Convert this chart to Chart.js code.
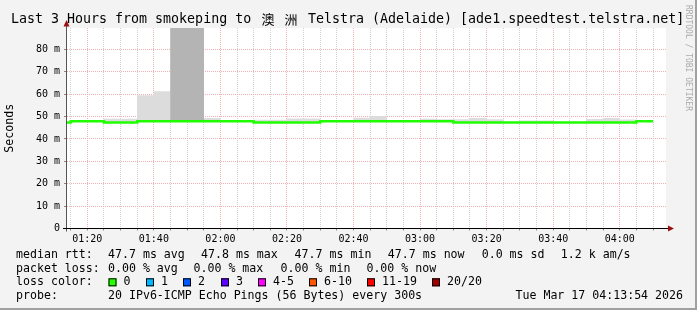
<!DOCTYPE html>
<html>
<head>
<meta charset="utf-8">
<script src="https://cdn.jsdelivr.net/npm/chart.js@4.4.1/dist/chart.umd.min.js"></script>
<style>
  html, body { margin: 0; padding: 0; background: #f3f3f3; }
  canvas { display: block; }
</style>
</head>
<body>
<canvas id="rttChart" width="697" height="310"></canvas>
<script>
const FONT = '"DejaVu Sans Mono", monospace';

// 5 minute bins, the first one starts at 01:10 (minutes after midnight)
const firstBin = 70;
const binMinutes = 5;
const viewStart = 73.9;   // 01:13:54
const viewEnd = 253.9;    // 04:13:54

const medianRtt = [47.4, 47.9, 47.9, 47.4, 47.4, 47.9, 47.9, 47.9, 47.9, 47.9,
                   47.9, 47.9, 47.4, 47.4, 47.4, 47.4, 47.9, 47.9, 47.9, 47.9,
                   47.9, 47.9, 47.9, 47.9, 47.4, 47.4, 47.4, 47.4, 47.4, 47.4,
                   47.4, 47.4, 47.4, 47.4, 47.4, 47.9];
const smokeLow   = [47.2, 47.6, 47.6, 47.2, 47.2, 47.6, 47.6, 47.6, 47.6, 47.6,
                    47.6, 47.6, 47.2, 47.2, 47.2, 47.2, 47.6, 47.6, 47.6, 47.6,
                    47.6, 47.6, 47.6, 47.6, 47.2, 47.2, 47.2, 47.2, 47.2, 47.2,
                    47.2, 47.2, 47.2, 47.2, 47.2, 47.6];
const smokeHigh  = [null, null, null, 49.0, 49.0, 59.5, 61.3, null, null, 49.4,
                    null, null, 48.6, 48.6, 49.2, 49.2, null, null, 49.5, 50.3,
                    null, null, 49.1, 48.8, 48.8, 49.4, 48.8, null, 48.3, 48.3,
                    null, null, 48.9, 49.4, 48.7, null];
const denseHigh  = [null, null, null, null, null, null, null, 95, 95, null,
                    null, null, null, null, null, null, null, null, null, null,
                    null, null, null, null, null, null, null, null, null, null,
                    null, null, null, null, null, null];

const xTickLabels = ['01:20', '01:40', '02:00', '02:20', '02:40', '03:00', '03:20', '03:40', '04:00'];
const yTickLabels = ['0', '10 m', '20 m', '30 m', '40 m', '50 m', '60 m', '70 m', '80 m'];

const titleParts = ['Last 3 Hours from smokeping to ', '澳洲', ' Telstra (Adelaide) [ade1.speedtest.telstra.net]'];
const rttStats = ['47.7 ms avg', '47.8 ms max', '47.7 ms min', '47.7 ms now', '0.0 ms sd', '1.2 k am/s'];
const lossStats = ['0.00 % avg', '0.00 % max', '0.00 % min', '0.00 % now'];
const lossLabels = ['0', '1', '2', '3', '4-5', '6-10', '11-19', '20/20'];
const lossColors = ['#26ff00', '#00b8ff', '#0059ff', '#5e00ff', '#ff00ff', '#ff5500', '#ff0000', '#a00000'];
const probeText = '20 IPv6-ICMP Echo Pings (56 Bytes) every 300s';
const dateText = 'Tue Mar 17 04:13:54 2026';

const toMinutes = s => { const [h, m] = s.split(':').map(Number); return h * 60 + m; };
const majorX = xTickLabels.map(toMinutes);

const binX = medianRtt.map((_, i) => firstBin + i * binMinutes);
const medianPoints = binX.map((x, i) => ({x, y: medianRtt[i]}));
medianPoints.push({x: binX[binX.length - 1] + binMinutes, y: medianRtt[medianRtt.length - 1]});
const smokePoints = binX.map((x, i) => smokeHigh[i] == null ? null : {x: x + binMinutes / 2, y: [smokeLow[i], smokeHigh[i]]}).filter(Boolean);
const densePoints = binX.map((x, i) => denseHigh[i] == null ? null : {x: x + binMinutes / 2, y: [smokeLow[i], denseHigh[i]]}).filter(Boolean);

const frame = {
  id: 'frame',
  beforeDraw(chart) {
    const {ctx, chartArea: a} = chart;
    ctx.save();
    ctx.fillStyle = '#f3f3f3';
    ctx.fillRect(0, 0, chart.width, chart.height);
    ctx.fillStyle = '#ffffff';
    ctx.fillRect(a.left, a.top, a.right - a.left, a.bottom - a.top);
    ctx.restore();
  },
  afterDraw(chart) {
    const {ctx, chartArea: a} = chart;
    ctx.save();
    // axes
    ctx.lineWidth = 1;
    ctx.strokeStyle = '#555555';
    ctx.beginPath();
    ctx.moveTo(a.left - 0.5, a.bottom + 3);
    ctx.lineTo(a.left - 0.5, a.top - 6);
    ctx.stroke();
    ctx.strokeStyle = '#000000';
    ctx.beginPath();
    ctx.moveTo(a.left - 4, Math.floor(a.bottom) + 0.5);
    ctx.lineTo(a.right + 3, Math.floor(a.bottom) + 0.5);
    ctx.stroke();
    // arrows
    ctx.fillStyle = '#9b1010';
    ctx.beginPath();
    ctx.moveTo(a.left - 0.5, a.top - 8);
    ctx.lineTo(a.left - 3.5, a.top - 1.5);
    ctx.lineTo(a.left + 2.5, a.top - 1.5);
    ctx.closePath();
    ctx.fill();
    const ay = Math.floor(a.bottom) + 0.5;
    ctx.beginPath();
    ctx.moveTo(a.right + 8, ay);
    ctx.lineTo(a.right + 2, ay - 3);
    ctx.lineTo(a.right + 2, ay + 3);
    ctx.closePath();
    ctx.fill();

    // title
    ctx.fillStyle = '#000000';
    ctx.textBaseline = 'alphabetic';
    ctx.textAlign = 'left';
    ctx.font = '13.3px ' + FONT;
    ctx.fillText(titleParts[0], 11, 23.3);
    ctx.fillText(titleParts[2], 300, 23.3);
    ctx.font = '13px "Noto Sans CJK SC"';
    ctx.textAlign = 'center';
    [...titleParts[1]].forEach((ch, i) => ctx.fillText(ch, 268 + i * 23, 23.5));

    // y axis title
    ctx.save();
    ctx.translate(10, (a.top + a.bottom) / 2);
    ctx.rotate(-Math.PI / 2);
    ctx.font = '11.6px ' + FONT;
    ctx.textBaseline = 'middle';
    ctx.fillText('Seconds', 0, 0);
    ctx.restore();

    // watermark
    ctx.save();
    ctx.translate(688, 5);
    ctx.rotate(Math.PI / 2);
    ctx.font = '8px ' + FONT;
    ctx.fillStyle = '#aaaaaa';
    ctx.textAlign = 'left';
    ctx.textBaseline = 'middle';
    ctx.fillText('RRDTOOL / TOBI OETIKER', 0, 0);
    ctx.restore();

    // legend
    ctx.font = '11.6px ' + FONT;
    ctx.textAlign = 'left';
    ctx.textBaseline = 'middle';
    ctx.fillStyle = '#000000';
    const rows = [255, 268.5, 282.3, 296];
    ctx.fillText('median rtt:', 16, rows[0]);
    [108, 201, 294.6, 387.8, 481.7, 560.8].forEach((x, i) => ctx.fillText(rttStats[i], x, rows[0]));
    ctx.fillText('packet loss:', 16, rows[1]);
    [108, 193.5, 280.6, 366.4].forEach((x, i) => ctx.fillText(lossStats[i], x, rows[1]));
    ctx.fillText('loss color:', 16, rows[2]);
    [108.5, 146, 183, 221, 258, 309, 367, 432].forEach((x, i) => {
      ctx.fillStyle = lossColors[i];
      ctx.fillRect(x, rows[2] - 4, 8, 8);
      ctx.strokeStyle = '#000000';
      ctx.strokeRect(x + 0.5, rows[2] - 3.5, 7, 7);
      ctx.fillStyle = '#000000';
      ctx.fillText(lossLabels[i], x + 15, rows[2]);
    });
    ctx.fillText('probe:', 16, rows[3]);
    ctx.fillText(probeText, 108, rows[3]);
    ctx.textAlign = 'right';
    ctx.fillText(dateText, 683, rows[3]);

    // frame shading
    ctx.fillStyle = '#a0a0a0';
    ctx.fillRect(chart.width - 2, 0, 2, chart.height);
    ctx.fillRect(0, chart.height - 2, chart.width, 2);
    ctx.restore();
  }
};

new Chart(document.getElementById('rttChart'), {
  type: 'bar',
  data: {
    datasets: [
      {type: 'line', data: medianPoints, borderColor: '#1fff00', borderWidth: 2.5, stepped: true,
       pointRadius: 0, fill: false, order: 0},
      {type: 'bar', data: densePoints, backgroundColor: '#b4b4b4', borderWidth: 0, grouped: false,
       barPercentage: 1.03, categoryPercentage: 1, order: 1},
      {type: 'bar', data: smokePoints, backgroundColor: '#dcdcdc', borderWidth: 0, grouped: false,
       barPercentage: 1.03, categoryPercentage: 1, order: 2}
    ]
  },
  options: {
    responsive: false,
    animation: false,
    devicePixelRatio: 1,
    layout: {padding: {left: 0, top: 28, right: 31, bottom: 57.5}},
    plugins: {legend: {display: false}, tooltip: {enabled: false}},
    scales: {
      x: {
        type: 'linear', min: viewStart, max: viewEnd, offset: false,
        afterFit: s => { s.height = 24; },
        afterBuildTicks: s => {
          const ticks = [];
          for (let v = Math.ceil(viewStart / binMinutes) * binMinutes; v <= viewEnd; v += binMinutes) ticks.push({value: v});
          s.ticks = ticks;
        },
        ticks: {
          autoSkip: false, maxRotation: 0, minRotation: 0,
          padding: 3, color: '#000000', font: {family: FONT, size: 10},
          callback: v => { const i = majorX.indexOf(v); return i >= 0 ? xTickLabels[i] : ''; }
        },
        grid: {
          offset: false, drawTicks: true, tickLength: 2,
          color: c => majorX.includes(c.tick.value) ? '#f4b0b0' : '#d0d0d0',
          tickColor: '#888888'
        },
        border: {display: false, dash: [1, 1]}
      },
      y: {
        min: 0, max: 89.6, stacked: false,
        afterFit: s => { s.width = 67; },
        ticks: {
          stepSize: 5, includeBounds: false, padding: 4, color: '#000000',
          font: {family: FONT, size: 10},
          callback: v => v % 10 === 0 ? yTickLabels[v / 10] : ''
        },
        grid: {
          drawTicks: true, tickLength: 3,
          color: c => c.tick.value === 0 ? 'rgba(0,0,0,0)' : (c.tick.value % 10 === 0 ? '#f4b0b0' : '#d0d0d0'),
          tickColor: '#888888'
        },
        border: {display: false, dash: [1, 1]}
      }
    }
  },
  plugins: [frame]
});
</script>
</body>
</html>
